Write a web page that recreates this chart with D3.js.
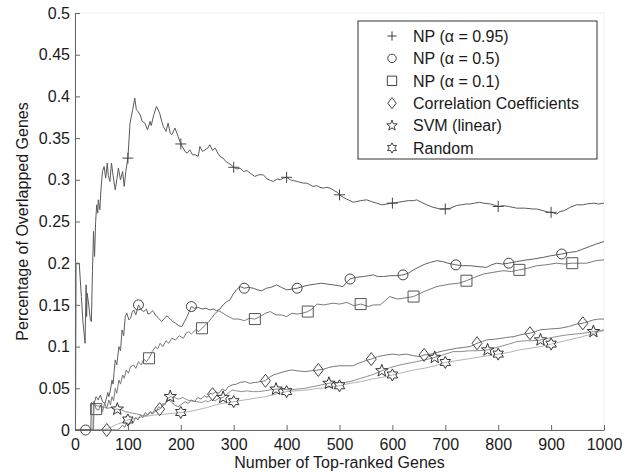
<!DOCTYPE html>
<html lang="en">
<head>
  <meta charset="UTF-8" />
  <title>Percentage of Overlapped Genes</title>
  <script src="https://d3js.org/d3.v7.min.js"></script>
  <style>
    body { margin: 0; background: #fff; }
    text { font-family: "Liberation Sans", Arial, Helvetica, sans-serif; fill: #1a1a1a; }
  </style>
</head>
<body>
  <div id="chart"></div>

  <script>
    // tick labels
    const xTicks = [0, 100, 200, 300, 400, 500, 600, 700, 800, 900, 1000];
    const yTicks = [0, 0.05, 0.1, 0.15, 0.2, 0.25, 0.3, 0.35, 0.4, 0.45, 0.5];

    // series names as in legend
    const seriesNames = ["NP (\u03b1 = 0.95)", "NP (\u03b1 = 0.5)", "NP (\u03b1 = 0.1)",
                         "Correlation Coefficients", "SVM (linear)", "Random"];

    // [number of top-ranked genes, percentage overlapped]
    const npHigh = [[1,0],[2,0.2],[8,0.2],[12,0.16],[15,0.13],[19,0.104],[21,0.174],[22,0.136],[23,0.164],[26,0.15],[29,0.132],[31,0.13],[33,0.19],[35,0.238],[37,0.208],[39,0.25],[41,0.27],[43,0.26],[44,0.276],[47,0.264],[49,0.288],[52,0.31],[55,0.316],[58,0.302],[61,0.32],[63,0.305],[66,0.298],[69,0.32],[72,0.305],[76,0.288],[79,0.3],[82,0.314],[86,0.3],[90,0.31],[93,0.292],[96,0.31],[100,0.326],[104,0.368],[109,0.384],[113,0.398],[116,0.384],[119,0.382],[123,0.378],[127,0.37],[132,0.368],[137,0.36],[142,0.37],[144,0.365],[149,0.378],[154,0.388],[160,0.38],[164,0.37],[167,0.364],[172,0.358],[176,0.368],[180,0.356],[183,0.354],[189,0.362],[195,0.352],[200,0.343],[208,0.334],[212,0.332],[217,0.336],[222,0.33],[227,0.33],[233,0.328],[236,0.34],[241,0.334],[246,0.336],[251,0.338],[255,0.342],[260,0.335],[265,0.338],[270,0.332],[274,0.328],[280,0.326],[285,0.322],[290,0.32],[295,0.318],[300,0.315],[306,0.313],[312,0.314],[318,0.31],[325,0.311],[331,0.308],[340,0.304],[347,0.306],[356,0.306],[363,0.301],[370,0.299],[375,0.298],[382,0.301],[388,0.3],[394,0.302],[400,0.303],[407,0.3],[413,0.299],[420,0.298],[425,0.297],[432,0.296],[438,0.296],[444,0.294],[450,0.292],[457,0.293],[463,0.291],[470,0.29],[476,0.291],[482,0.29],[490,0.287],[496,0.285],[500,0.282],[507,0.279],[513,0.277],[520,0.275],[526,0.273],[533,0.274],[540,0.275],[551,0.276],[560,0.274],[570,0.272],[580,0.27],[590,0.271],[600,0.272],[610,0.273],[620,0.274],[630,0.275],[640,0.275],[646,0.276],[655,0.273],[665,0.27],[677,0.267],[684,0.266],[690,0.265],[700,0.265],[710,0.266],[721,0.269],[730,0.27],[740,0.271],[747,0.271],[755,0.272],[765,0.273],[772,0.272],[785,0.271],[797,0.269],[800,0.268],[810,0.269],[820,0.268],[835,0.266],[841,0.266],[850,0.266],[866,0.265],[873,0.265],[885,0.263],[895,0.261],[900,0.261],[911,0.259],[917,0.262],[925,0.263],[936,0.267],[948,0.27],[960,0.27],[967,0.271],[980,0.272],[990,0.271],[1000,0.272]];

    const npMid = [[1,0],[20,0],[30,0],[31,0.033],[35,0.03],[40,0.04],[44,0.036],[48,0.042],[52,0.034],[57,0.032],[62,0.045],[64,0.04],[67,0.048],[70,0.06],[72,0.055],[74,0.07],[76,0.084],[79,0.078],[83,0.1],[86,0.095],[89,0.12],[92,0.113],[95,0.136],[98,0.14],[102,0.132],[105,0.134],[108,0.141],[111,0.144],[115,0.138],[120,0.15],[125,0.144],[130,0.142],[135,0.145],[138,0.139],[142,0.14],[147,0.143],[152,0.138],[158,0.134],[164,0.13],[169,0.134],[174,0.137],[180,0.133],[185,0.13],[190,0.128],[196,0.125],[202,0.124],[207,0.13],[212,0.136],[216,0.142],[220,0.148],[226,0.146],[233,0.147],[240,0.145],[247,0.146],[255,0.144],[262,0.145],[268,0.143],[274,0.145],[280,0.15],[287,0.154],[293,0.156],[299,0.163],[305,0.168],[312,0.172],[320,0.17],[328,0.171],[337,0.17],[345,0.168],[353,0.167],[362,0.17],[370,0.171],[381,0.174],[390,0.171],[400,0.168],[410,0.169],[420,0.17],[430,0.172],[444,0.174],[455,0.175],[466,0.176],[477,0.175],[488,0.174],[498,0.173],[507,0.172],[513,0.177],[520,0.181],[530,0.183],[545,0.184],[555,0.185],[564,0.186],[572,0.184],[583,0.184],[595,0.185],[607,0.185],[620,0.186],[630,0.188],[640,0.192],[652,0.196],[662,0.199],[672,0.201],[684,0.203],[695,0.202],[705,0.2],[720,0.198],[733,0.197],[747,0.197],[760,0.196],[778,0.195],[787,0.198],[797,0.2],[808,0.199],[820,0.2],[835,0.202],[845,0.203],[854,0.204],[867,0.205],[885,0.207],[900,0.209],[910,0.21],[920,0.211],[935,0.213],[948,0.214],[960,0.217],[973,0.22],[985,0.223],[1000,0.226]];

    const npLow = [[1,0],[34,0],[35,0.034],[38,0.03],[40,0.025],[45,0.024],[48,0.03],[52,0.022],[56,0.032],[60,0.026],[64,0.036],[67,0.03],[70,0.04],[73,0.035],[76,0.05],[79,0.044],[83,0.06],[86,0.055],[90,0.066],[93,0.062],[97,0.072],[101,0.068],[105,0.076],[111,0.078],[115,0.074],[120,0.082],[125,0.078],[130,0.085],[135,0.082],[140,0.086],[146,0.094],[152,0.1],[156,0.097],[161,0.104],[166,0.1],[172,0.107],[177,0.104],[183,0.11],[190,0.108],[197,0.113],[205,0.11],[210,0.116],[215,0.118],[220,0.115],[228,0.12],[234,0.118],[240,0.122],[247,0.126],[253,0.13],[258,0.134],[265,0.14],[272,0.143],[280,0.14],[287,0.137],[293,0.135],[299,0.133],[310,0.133],[320,0.131],[330,0.134],[340,0.133],[350,0.136],[360,0.14],[369,0.142],[380,0.138],[390,0.138],[400,0.136],[410,0.14],[420,0.139],[430,0.14],[440,0.142],[450,0.146],[457,0.151],[470,0.15],[488,0.152],[500,0.151],[514,0.153],[527,0.149],[540,0.151],[555,0.148],[564,0.15],[577,0.15],[595,0.16],[610,0.157],[620,0.158],[640,0.16],[660,0.166],[684,0.172],[709,0.175],[725,0.176],[740,0.179],[755,0.183],[772,0.187],[790,0.189],[809,0.191],[825,0.19],[840,0.192],[856,0.194],[873,0.197],[890,0.198],[910,0.2],[925,0.199],[940,0.2],[955,0.2],[967,0.2],[985,0.203],[1000,0.204]];

    const corr = [[1,0],[60,0],[80,0],[85,0.002],[90,0.006],[94,0.003],[98,0.009],[102,0.006],[106,0.012],[110,0.009],[115,0.015],[119,0.012],[124,0.018],[128,0.015],[133,0.021],[137,0.018],[142,0.022],[148,0.02],[154,0.024],[160,0.025],[165,0.028],[170,0.032],[176,0.036],[182,0.034],[188,0.03],[195,0.028],[202,0.031],[208,0.034],[214,0.032],[220,0.036],[226,0.034],[232,0.039],[238,0.037],[245,0.041],[250,0.039],[255,0.044],[260,0.043],[266,0.046],[272,0.044],[278,0.049],[284,0.047],[290,0.052],[297,0.054],[305,0.055],[312,0.057],[322,0.058],[330,0.056],[340,0.057],[350,0.058],[360,0.059],[367,0.063],[375,0.066],[385,0.068],[395,0.07],[410,0.072],[420,0.071],[435,0.07],[447,0.071],[460,0.072],[470,0.073],[480,0.075],[488,0.076],[498,0.077],[510,0.077],[526,0.077],[536,0.08],[545,0.082],[553,0.084],[560,0.085],[572,0.088],[589,0.09],[600,0.091],[612,0.09],[627,0.091],[640,0.089],[652,0.088],[660,0.09],[672,0.091],[680,0.092],[690,0.094],[705,0.096],[721,0.098],[735,0.099],[747,0.1],[760,0.104],[770,0.106],[778,0.108],[795,0.109],[816,0.111],[830,0.112],[841,0.114],[850,0.115],[860,0.116],[870,0.118],[879,0.12],[895,0.121],[917,0.122],[933,0.124],[948,0.127],[960,0.128],[970,0.13],[980,0.132],[990,0.133],[1000,0.133]];

    const svm = [[1,0],[35,0],[36,0.03],[42,0.029],[50,0.028],[56,0.027],[62,0.026],[68,0.027],[74,0.025],[80,0.025],[88,0.024],[95,0.022],[103,0.021],[110,0.02],[118,0.019],[125,0.018],[132,0.017],[138,0.018],[142,0.021],[146,0.019],[150,0.024],[154,0.022],[158,0.028],[162,0.026],[166,0.032],[170,0.03],[174,0.037],[180,0.04],[188,0.039],[196,0.037],[204,0.039],[212,0.036],[220,0.035],[230,0.034],[240,0.033],[246,0.035],[252,0.034],[258,0.036],[265,0.035],[272,0.038],[280,0.039],[287,0.043],[293,0.046],[297,0.048],[305,0.047],[315,0.046],[325,0.047],[335,0.046],[347,0.046],[358,0.047],[368,0.048],[380,0.049],[392,0.049],[405,0.048],[420,0.049],[435,0.05],[450,0.052],[465,0.054],[480,0.056],[495,0.057],[510,0.057],[520,0.058],[535,0.061],[551,0.064],[565,0.067],[580,0.071],[597,0.075],[614,0.078],[630,0.08],[646,0.082],[660,0.084],[680,0.087],[695,0.09],[705,0.092],[715,0.094],[730,0.094],[745,0.095],[760,0.095],[780,0.096],[803,0.1],[820,0.103],[835,0.106],[850,0.107],[865,0.107],[880,0.108],[895,0.11],[910,0.112],[929,0.114],[945,0.115],[960,0.116],[980,0.118],[990,0.119],[1000,0.12]];

    const random = [[1,0],[55,0],[62,0.002],[70,0.004],[80,0.007],[90,0.009],[100,0.012],[115,0.014],[130,0.016],[150,0.018],[170,0.019],[185,0.02],[200,0.021],[215,0.022],[230,0.024],[250,0.027],[265,0.03],[280,0.032],[300,0.034],[320,0.036],[340,0.038],[360,0.04],[380,0.043],[400,0.046],[420,0.047],[440,0.048],[460,0.05],[480,0.051],[500,0.053],[520,0.056],[540,0.058],[560,0.061],[580,0.063],[600,0.066],[620,0.069],[640,0.072],[660,0.074],[680,0.077],[700,0.081],[720,0.083],[740,0.085],[760,0.087],[780,0.089],[800,0.091],[820,0.093],[840,0.096],[860,0.098],[880,0.1],[900,0.103],[920,0.106],[940,0.109],[960,0.112],[980,0.116],[1000,0.119]];

    // genes where each series carries a marker
    const markerGenes = [
      [100, 200, 300, 400, 500, 600, 700, 800, 900],
      [20, 120, 220, 320, 420, 520, 620, 720, 820, 920],
      [40, 140, 240, 340, 440, 540, 640, 740, 840, 940],
      [60, 160, 260, 360, 460, 560, 660, 760, 860, 960],
      [80, 180, 280, 380, 480, 580, 680, 780, 880, 980],
      [100, 200, 300, 400, 500, 600, 700, 800, 900]
    ];

    const seriesData = [npHigh, npMid, npLow, corr, svm, random];
    const markerTypes = ["plus", "circle", "square", "diamond", "pentagram", "hexagram"];
    const lineColors = ["#5a5a5a", "#606060", "#7a7a7a", "#787878", "#8e8e8e", "#b4b4b4"];
    const markerColors = ["#444", "#444", "#555", "#444", "#333", "#333"];

    function starPath(n, outer, inner) {
      const pts = [];
      for (let i = 0; i < 2 * n; i++) {
        const r = i % 2 === 0 ? outer : inner;
        const a = -Math.PI / 2 + i * Math.PI / n;
        pts.push([r * Math.cos(a), r * Math.sin(a)]);
      }
      return "M" + pts.map(p => p[0].toFixed(2) + "," + p[1].toFixed(2)).join("L") + "Z";
    }

    function markerPath(type) {
      switch (type) {
        case "plus": return "M-5.5,0H5.5M0,-5.5V5.5";
        case "circle": return "M5,0A5,5 0 1,1 -5,0A5,5 0 1,1 5,0Z";
        case "square": return "M-5.5,-5.5H5.5V5.5H-5.5Z";
        case "diamond": return "M0,-6.5L5,0L0,6.5L-5,0Z";
        case "pentagram": return starPath(5, 6.5, 2.7);
        case "hexagram": return starPath(6, 6, 3.4);
      }
    }

    function valueAt(data, g) {
      const hit = data.find(d => d[0] === g);
      if (hit) return hit[1];
      const i = d3.bisector(d => d[0]).left(data, g);
      const a = data[i - 1], b = data[i];
      return a[1] + (b[1] - a[1]) * (g - a[0]) / (b[0] - a[0]);
    }

    const margin = {top: 13, right: 30, bottom: 42, left: 75},
          width = 634 - margin.left - margin.right,
          height = 472 - margin.top - margin.bottom;

    const svg = d3.select("#chart")
      .append("svg")
      .attr("width", 634)
      .attr("height", 472)
      .append("g")
      .attr("transform", `translate(${margin.left},${margin.top})`);

    const x = d3.scaleLinear().domain([0, 1000]).range([0, width]);
    const y = d3.scaleLinear().domain([0, 0.5]).range([height, 0]);

    // faint frame of the plot box
    svg.append("rect")
      .attr("width", width)
      .attr("height", height)
      .attr("fill", "none")
      .attr("stroke", "#f0f0f0");

    const line = d3.line().x(d => x(d[0])).y(d => y(d[1]));

    // draw lines bottom-up so the dark ones sit on top
    for (let s = seriesData.length - 1; s >= 0; s--) {
      svg.append("path")
        .datum(seriesData[s])
        .attr("fill", "none")
        .attr("stroke", lineColors[s])
        .attr("stroke-width", 1)
        .attr("stroke-linejoin", "round")
        .attr("d", line);
    }

    seriesData.forEach((data, s) => {
      svg.append("g").selectAll("path")
        .data(markerGenes[s])
        .enter()
        .append("path")
        .attr("transform", g => `translate(${x(g)},${y(valueAt(data, g))})`)
        .attr("d", markerPath(markerTypes[s]))
        .attr("fill", "none")
        .attr("stroke", markerColors[s])
        .attr("stroke-width", 1);
    });

    // axes
    const xAxis = svg.append("g")
      .attr("transform", `translate(0,${height})`)
      .call(d3.axisBottom(x).tickValues(xTicks).tickFormat(d3.format("d"))
        .tickSizeInner(-5).tickSizeOuter(0).tickPadding(9));

    const yAxis = svg.append("g")
      .call(d3.axisLeft(y).tickValues(yTicks).tickFormat(d3.format("~g"))
        .tickSizeInner(-5).tickSizeOuter(0).tickPadding(5));

    [xAxis, yAxis].forEach(ax => {
      ax.select(".domain").attr("stroke", "#666");
      ax.selectAll(".tick line").attr("stroke", "#666");
      ax.selectAll(".tick text")
        .style("font-size", "16px")
        .style("font-family", "'Liberation Sans', Arial, sans-serif")
        .attr("fill", "#1a1a1a");
    });

    // axis titles
    svg.append("text")
      .attr("x", width / 2)
      .attr("y", height + 38)
      .attr("text-anchor", "middle")
      .style("font-size", "16px")
      .text("Number of Top-ranked Genes");

    svg.append("text")
      .attr("transform", "rotate(-90)")
      .attr("x", -height / 2)
      .attr("y", -47)
      .attr("text-anchor", "middle")
      .style("font-size", "16px")
      .text("Percentage of Overlapped Genes");

    // legend
    const legend = svg.append("g").attr("transform", `translate(${358 - margin.left},${21 - margin.top})`);
    legend.append("rect")
      .attr("width", 239)
      .attr("height", 138)
      .attr("fill", "#fff")
      .attr("stroke", "#333")
      .attr("stroke-width", 1);

    seriesNames.forEach((name, i) => {
      const row = legend.append("g").attr("transform", `translate(0,${15 + i * 22.4})`);
      row.append("path")
        .attr("transform", "translate(34,0) scale(0.85)")
        .attr("d", markerPath(markerTypes[i]))
        .attr("fill", "none")
        .attr("stroke", "#333")
        .attr("stroke-width", 1.1);
      row.append("text")
        .attr("x", 55)
        .attr("dy", "0.36em")
        .style("font-size", "16px")
        .text(name);
    });
  </script>
</body>
</html>
